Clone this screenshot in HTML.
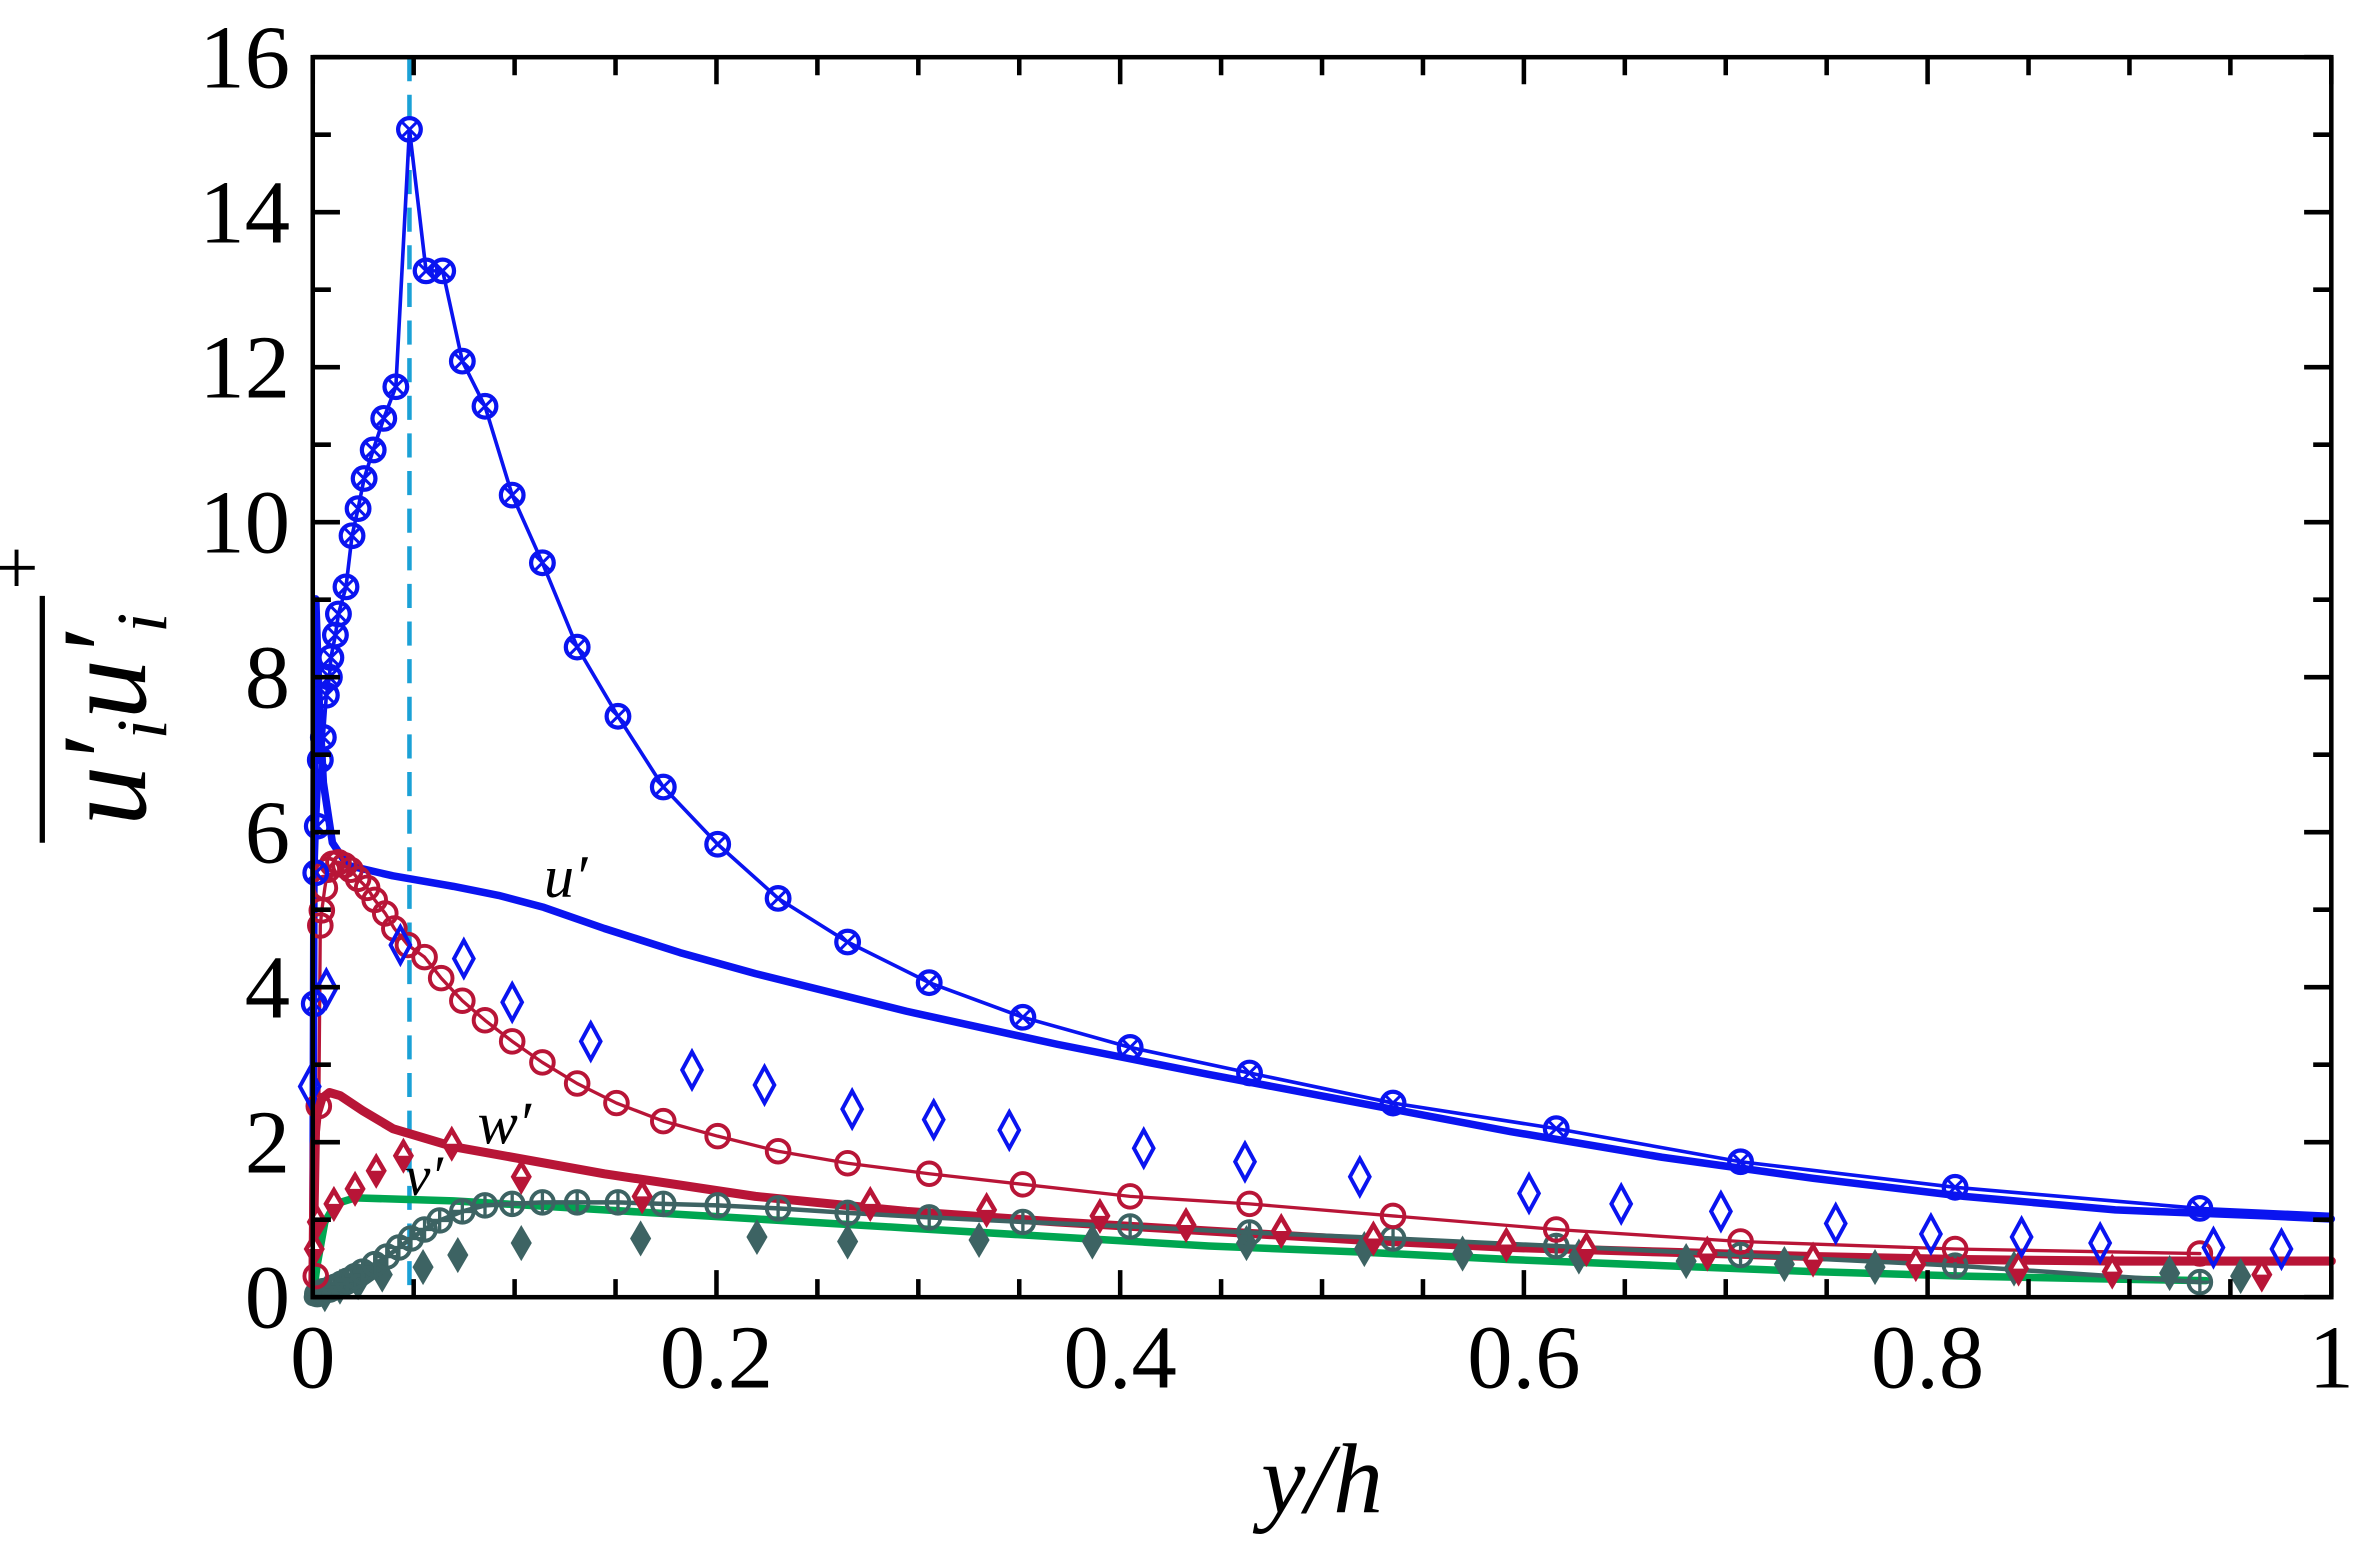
<!DOCTYPE html>
<html><head><meta charset="utf-8"><style>
html,body{margin:0;padding:0;background:#fff;}
svg{display:block;}
text{font-family:"Liberation Serif",serif;}
</style></head><body>
<svg id="s" width="2357" height="1550" viewBox="0 0 1560 1030" preserveAspectRatio="none" xmlns="http://www.w3.org/2000/svg">
<rect width="1560" height="1030" fill="#fff"/>
<g id="plot"></g>
<g id="axes"></g>
</svg>
<script>
const NS="http://www.w3.org/2000/svg";
const plot=document.getElementById('plot'), axes=document.getElementById('axes');
function el(tag,attrs,parent,txt){const e=document.createElementNS(NS,tag);for(const k in attrs)e.setAttribute(k,attrs[k]);if(txt!==undefined)e.textContent=txt;(parent||plot).appendChild(e);return e;}
function pl(pts,color,w,extra){el('polyline',Object.assign({points:pts.map(p=>p.join(',')).join(' '),fill:'none',stroke:color,'stroke-width':w,'stroke-linejoin':'round','stroke-linecap':'round'},extra||{}));}
const L=207,R=1543,T=38,B=862;
el('line',{x1:271,y1:T,x2:271,y2:B,stroke:'#1ba1d6','stroke-width':3,'stroke-dasharray':'16,9'});
// blue thick
pl([[207,862],[208,500],[209,398],[211,460],[214,520],[220,560],[230,575],[260,582],[300,589],[330,595],[360,603],[400,617],[450,633],[500,647],[600,672],[700,694],[800,714],[900,733],[1000,752],[1100,769],[1200,783],[1300,795],[1400,804],[1500,808],[1543,810]],'#0a14f0',5);
const bm=[[208,667],[209,580],[210,549],[212,505],[214,490],[216,462],[218,450],[219,437],[222,422],[224,408],[229,390],[233,356],[237,338],[241,318],[247,299],[254,278],[262,257],[271,86],[282,180],[293,180],[306,240],[321,270],[339,329],[359,374],[382,430],[409,476],[439,523],[475,561],[515,597],[561,626],[615,653],[677,676],[748,696],[827,713],[922,733],[1030,750],[1152,772],[1294,789],[1456,803]];
pl([[208,722]].concat(bm).concat([[1543,807]]),'#0a14f0',2.4);
// red thick
pl([[207,862],[208,760],[210,740],[213,730],[218,726],[225,728],[240,738],[260,750],[300,762],[400,780],[500,795],[600,805],[700,812],[800,818],[900,824],[1000,829],[1100,832],[1200,835],[1300,837],[1400,838],[1543,838]],'#b81537',6);
const rm=[[209,848],[211,735],[212,615],[213,605],[215,590],[217,578],[220,574],[224,573],[228,575],[232,578],[237,584],[243,590],[248,598],[255,607],[261,617],[270,628],[281,636],[292,650],[306,665],[321,678],[339,692],[359,706],[382,720],[408,733],[439,745],[475,755],[515,765],[561,773],[615,780],[677,787],[748,795],[827,800],[922,808],[1030,817],[1152,825],[1294,830],[1456,833]];
pl([[207,862]].concat(rm),'#b81537',2.2);
pl([[207,862],[210,840],[215,812],[222,800],[235,796],[300,798],[400,804],[500,810],[600,816],[700,822],[800,828],[900,832],[1000,837],[1100,841],[1200,845],[1300,848],[1400,850],[1460,851]],'#00a651',5);
const gm=[[210,860],[214,858],[218,857],[222,855],[226,853],[230,851],[235,848],[240,845],[248,840],[256,835],[264,829],[272,823],[281,817],[291,811],[306,805],[321,801],[339,800],[359,799],[382,799],[409,799],[439,800],[475,801],[515,803],[561,806],[615,809],[677,812],[748,815],[827,819],[922,823],[1030,828],[1152,834],[1294,841],[1456,852]];
pl([[207,862]].concat(gm),'#3d6363',3);
el('path',{d:'M207,862 Q225,860 245,845',stroke:'#3d6363','stroke-width':12,fill:'none','stroke-linecap':'round'});
[[215,860],[225,855],[237,852],[253,847],[280,842],[303,834],[345,826],[424,823],[501,822],[561,825],[648,824],[723,825],[825,826],[903,830],[968,833],[1045,835],[1116,838],[1181,840],[1241,842],[1333,843],[1436,846],[1483,848]].forEach(([x,y])=>el('polygon',{points:`${x},${y-12} ${x+7},${y} ${x},${y+12} ${x-7},${y}`,fill:'#3d6363'}));
gm.forEach(([x,y])=>{el('circle',{cx:x,cy:y,r:7.5,fill:'none',stroke:'#3d6363','stroke-width':2.6});el('path',{d:`M${x-7},${y}H${x+7}M${x},${y-7}V${y+7}`,stroke:'#3d6363','stroke-width':2.2});});
[[208,830],[210,812],[221,800],[235,790],[249,778],[267,768],[299,760],[345,782],[425,795],[576,800],[653,804],[728,808],[785,814],[848,818],[909,823],[997,827],[1050,830],[1130,833],[1200,837],[1268,840],[1336,843],[1398,845],[1497,847]].forEach(([x,y])=>{el('polygon',{points:`${x},${y-12} ${x+7},${y} ${x},${y+12} ${x-7},${y}`,fill:'#b81537'});el('polygon',{points:`${x},${y-6} ${x+3.5},${y} ${x-3.5},${y}`,fill:'#fff'});});
rm.forEach(([x,y])=>el('circle',{cx:x,cy:y,r:7.5,fill:'none',stroke:'#b81537','stroke-width':2.6}));
[[205,722],[216,657],[265,628],[307,637],[339,666],[391,692],[458,711],[506,721],[564,737],[618,744],[668,751],[757,763],[824,772],[900,782],[1012,793],[1073,800],[1139,805],[1215,813],[1278,820],[1338,822],[1390,826],[1465,829],[1510,830]].forEach(([x,y])=>el('polygon',{points:`${x},${y-12} ${x+6.5},${y} ${x},${y+12} ${x-6.5},${y}`,fill:'none',stroke:'#0a14f0','stroke-width':2.6}));
bm.forEach(([x,y])=>{el('circle',{cx:x,cy:y,r:7.5,fill:'none',stroke:'#0a14f0','stroke-width':2.8});el('path',{d:`M${x-5},${y-5}L${x+5},${y+5}M${x+5},${y-5}L${x-5},${y+5}`,stroke:'#0a14f0','stroke-width':2});});
el('text',{x:360,y:596,'font-size':40,'font-style':'italic'},plot,'u′');
el('text',{x:316,y:760,'font-size':40,'font-style':'italic'},plot,'w′');
el('text',{x:268,y:794,'font-size':38,'font-style':'italic'},plot,'v′');
el('rect',{x:L,y:T,width:R-L,height:B-T,fill:'none',stroke:'#000','stroke-width':3},axes);
let d='';
for(let i=0;i<=20;i++){const x=L+(R-L)*i/20;const len=(i%4==0)?18:12;d+=`M${x},${B}V${B-len}M${x},${T}V${T+len}`;}
for(let i=0;i<=16;i++){const y=B-(B-T)*i/16;const len=(i%2==0)?18:12;d+=`M${L},${y}H${L+len}M${R},${y}H${R-len}`;}
el('path',{d:d,stroke:'#000','stroke-width':3},axes);
for(let i=0;i<=8;i++){const v=i*2;el('text',{x:192,y:B-(B-T)*v/16+20,'font-size':60,'text-anchor':'end'},axes,String(v));}
['0','0.2','0.4','0.6','0.8','1'].forEach((t,i)=>el('text',{x:L+(R-L)*i/5,y:922,'font-size':60,'text-anchor':'middle'},axes,t));
el('text',{x:875,y:1005,'font-size':66,'font-style':'italic','text-anchor':'middle'},axes,'y/h');
const g=el('g',{transform:'translate(96,478) rotate(-90)'},axes);
const t=el('text',{x:0,y:0,'font-size':80,'font-style':'italic','text-anchor':'middle'},g);
el('tspan',{},t,'u′');el('tspan',{'font-size':48,dy:14},t,'i');el('tspan',{dy:-14},t,'u′');el('tspan',{'font-size':48,dy:14},t,'i');
el('line',{x1:-82,y1:-68,x2:82,y2:-68,stroke:'#000','stroke-width':3.5},g);
el('text',{x:86,y:-68,'font-size':52},g,'+');
</script>
</body></html>
